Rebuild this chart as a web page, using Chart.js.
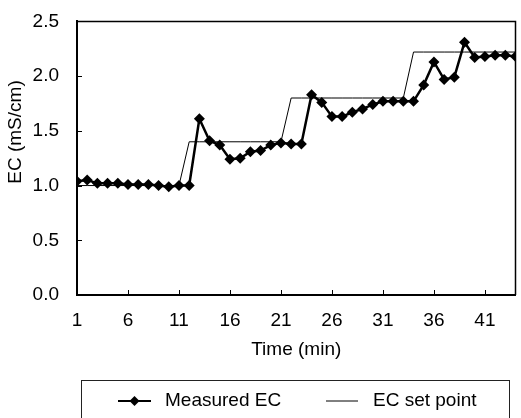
<!DOCTYPE html>
<html>
<head>
<meta charset="utf-8">
<script src="https://cdn.jsdelivr.net/npm/chart.js@4.4.1/dist/chart.umd.min.js"></script>
<style>
  html, body { margin: 0; padding: 0; background: #fff; }
  #wrap { width: 521px; height: 418px; }
</style>
</head>
<body>
<div id="wrap"><canvas id="ec-chart" width="521" height="418"></canvas></div>
<script>
const minutes = [1, 2, 3, 4, 5, 6, 7, 8, 9, 10, 11, 12, 13, 14, 15, 16, 17, 18, 19, 20, 21, 22,
  23, 24, 25, 26, 27, 28, 29, 30, 31, 32, 33, 34, 35, 36, 37, 38, 39, 40, 41, 42, 43, 44];
const measuredEC = [1.04, 1.05, 1.02, 1.02, 1.02, 1.01, 1.01, 1.01, 1.00, 0.99, 1.00, 1.00,
  1.61, 1.41, 1.37, 1.24, 1.25, 1.31, 1.32, 1.37, 1.39, 1.38, 1.38,
  1.83, 1.76, 1.63, 1.63, 1.67, 1.70, 1.74, 1.77, 1.77, 1.77, 1.77,
  1.92, 2.13, 1.97, 1.99, 2.31, 2.17, 2.18, 2.19, 2.19, 2.18];
const setPoint = [1.0, 1.0, 1.0, 1.0, 1.0, 1.0, 1.0, 1.0, 1.0, 1.0, 1.0,
  1.4, 1.4, 1.4, 1.4, 1.4, 1.4, 1.4, 1.4, 1.4, 1.4,
  1.8, 1.8, 1.8, 1.8, 1.8, 1.8, 1.8, 1.8, 1.8, 1.8, 1.8, 1.8,
  2.22, 2.22, 2.22, 2.22, 2.22, 2.22, 2.22, 2.22, 2.22, 2.22, 2.22];
const xTicks = [1, 6, 11, 16, 21, 26, 31, 36, 41];
const yTicks = [0.0, 0.5, 1.0, 1.5, 2.0, 2.5];

const FONT = 'Arial, "Liberation Sans", sans-serif';
const FONT_SIZE = 19;

// frame, inward tick marks, y title and the boxed legend
const framePlugin = {
  id: 'frame',
  afterDraw(chart) {
    const ctx = chart.ctx;
    const a = chart.chartArea;
    const xs = chart.scales.x, ys = chart.scales.y;
    ctx.save();
    ctx.strokeStyle = '#000';
    ctx.lineWidth = 1.5;
    ctx.beginPath();
    ctx.moveTo(a.left, a.top); ctx.lineTo(a.right, a.top); ctx.lineTo(a.right, a.bottom);
    ctx.stroke();
    ctx.lineWidth = 1;
    ctx.beginPath();
    xTicks.forEach(v => {
      const px = Math.round(xs.getPixelForValue(v)) + 0.5;
      ctx.moveTo(px, a.bottom); ctx.lineTo(px, a.bottom - 5);
    });
    yTicks.forEach(v => {
      const py = Math.round(ys.getPixelForValue(v)) + 0.5;
      ctx.moveTo(a.left, py); ctx.lineTo(a.left + 5, py);
    });
    ctx.stroke();

    ctx.fillStyle = '#000';
    ctx.font = FONT_SIZE + 'px ' + FONT;
    ctx.textBaseline = 'middle';

    // y axis title
    ctx.save();
    ctx.translate(16, 132);
    ctx.rotate(-Math.PI / 2);
    ctx.textAlign = 'center';
    ctx.fillText('EC (mS/cm)', 0, 0);
    ctx.restore();

    // legend
    ctx.strokeStyle = '#222';
    ctx.lineWidth = 1;
    ctx.strokeRect(81.5, 380.5, 428, 60);
    const ly = 401;
    const items = [
      { ds: chart.data.datasets[0], x0: 118, x1: 151, tx: 165 },
      { ds: chart.data.datasets[1], x0: 326, x1: 358, tx: 373 }
    ];
    ctx.textAlign = 'left';
    items.forEach(it => {
      ctx.strokeStyle = it.ds.borderColor;
      ctx.lineWidth = it.ds.borderWidth === 1 ? 1 : 2;
      ctx.beginPath(); ctx.moveTo(it.x0, ly); ctx.lineTo(it.x1, ly); ctx.stroke();
      if (it.ds.pointRadius > 0) {
        const cx = (it.x0 + it.x1) / 2, r = 5;
        ctx.beginPath();
        ctx.moveTo(cx, ly - r); ctx.lineTo(cx + r, ly); ctx.lineTo(cx, ly + r); ctx.lineTo(cx - r, ly);
        ctx.closePath(); ctx.fill();
      }
      ctx.fillText(it.ds.label, it.tx, ly);
    });
    ctx.restore();
  }
};

new Chart(document.getElementById('ec-chart'), {
  type: 'line',
  data: {
    datasets: [
      {
        label: 'Measured EC',
        data: minutes.map((m, i) => ({ x: m, y: measuredEC[i] })),
        borderColor: '#000',
        backgroundColor: '#000',
        borderWidth: 2.5,
        pointStyle: 'rectRot',
        pointRadius: 5.5,
        pointBorderWidth: 0,
        tension: 0
      },
      {
        label: 'EC set point',
        data: minutes.map((m, i) => ({ x: m, y: setPoint[i] })),
        borderColor: '#000',
        backgroundColor: '#000',
        borderWidth: 1,
        pointRadius: 0,
        tension: 0
      }
    ]
  },
  options: {
    responsive: false,
    animation: false,
    devicePixelRatio: 1,
    layout: { padding: { top: 13, right: 2, left: 0, bottom: 38 } },
    plugins: {
      tooltip: { enabled: false },
      legend: { display: false }
    },
    scales: {
      x: {
        type: 'linear',
        min: 1,
        max: 44,
        grid: { display: false },
        border: { display: true, color: '#000', width: 2 },
        afterBuildTicks(scale) { scale.ticks = xTicks.map(v => ({ value: v })); },
        afterFit(scale) { scale.height = 85; },
        ticks: { color: '#000', font: { family: FONT, size: FONT_SIZE }, padding: 6, maxRotation: 0 },
        title: { display: true, text: 'Time (min)', color: '#000', font: { family: FONT, size: FONT_SIZE }, padding: { top: 0, bottom: 19 } }
      },
      y: {
        min: 0,
        max: 2.5,
        grid: { display: false },
        border: { display: true, color: '#000', width: 2 },
        afterBuildTicks(scale) { scale.ticks = yTicks.map(v => ({ value: v })); },
        afterFit(scale) { scale.width = 77; },
        ticks: { color: '#000', font: { family: FONT, size: FONT_SIZE }, padding: 10, callback: v => v.toFixed(1) }
      }
    }
  },
  plugins: [framePlugin]
});
</script>
</body>
</html>
